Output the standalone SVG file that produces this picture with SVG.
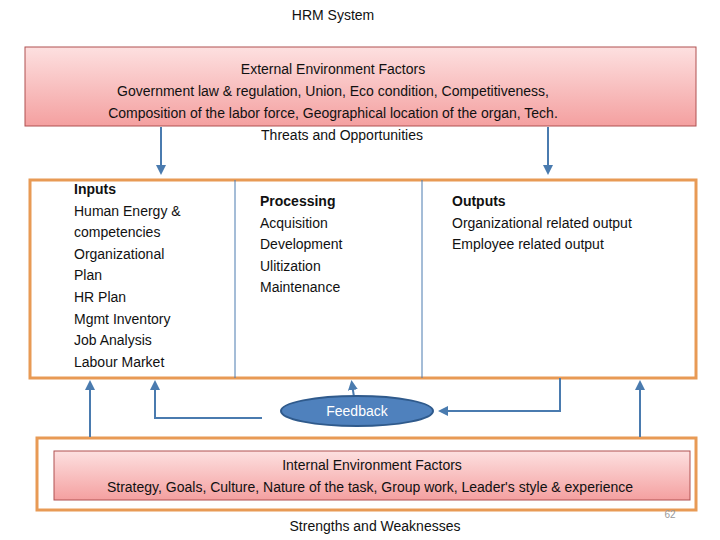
<svg xmlns="http://www.w3.org/2000/svg" width="720" height="540" viewBox="0 0 720 540">
<defs>
<linearGradient id="pk" x1="0" y1="0" x2="0" y2="1"><stop offset="0" stop-color="#FDE0E0"/><stop offset="1" stop-color="#F4A0A0"/></linearGradient>
<marker id="ah" markerWidth="6" markerHeight="6" refX="3" refY="3" orient="auto"><path d="M0,0.5 L5,3 L0,5.5 Z" fill="#4A7BAF"/></marker>
<style>
text{font-family:"Liberation Sans",Arial,sans-serif;font-size:14px;fill:#111}
.c{text-anchor:middle}
.b{font-weight:bold}
.ln{stroke:#4A7BAF;stroke-width:2;fill:none}
.ob{fill:#fff;stroke:#E89A55;stroke-width:3}
</style>
</defs>
<text x="333" y="20" class="c">HRM System</text>
<g id="external">
<rect x="25" y="47" width="671" height="79" fill="url(#pk)" stroke="#B05050" stroke-width="1"/>
<text x="333" y="74" class="c">External Environment Factors</text>
<text x="333" y="96" class="c">Government law &amp; regulation, Union, Eco condition, Competitiveness,</text>
<text x="333" y="118" class="c">Composition of the labor force, Geographical location of the organ, Tech.</text>
<text x="342" y="140" class="c">Threats and Opportunities</text>
</g>
<g id="system">
<rect x="30" y="180" width="666" height="198" class="ob"/>
<line x1="235" y1="180" x2="235" y2="378" stroke="#4A7BAF" stroke-width="1"/>
<line x1="422" y1="180" x2="422" y2="378" stroke="#4A7BAF" stroke-width="1"/>
<g id="inputs"><text x="74" y="194"><tspan class="b">Inputs</tspan><tspan x="74" dy="21.6">Human Energy &amp;</tspan><tspan x="74" dy="21.6">competencies</tspan><tspan x="74" dy="21.6">Organizational</tspan><tspan x="74" dy="21.6">Plan</tspan><tspan x="74" dy="21.6">HR Plan</tspan><tspan x="74" dy="21.6">Mgmt Inventory</tspan><tspan x="74" dy="21.6">Job Analysis</tspan><tspan x="74" dy="21.6">Labour Market</tspan></text></g>
<g id="processing"><text x="260" y="206"><tspan class="b">Processing</tspan><tspan x="260" dy="21.6">Acquisition</tspan><tspan x="260" dy="21.6">Development</tspan><tspan x="260" dy="21.6">Ulitization</tspan><tspan x="260" dy="21.6">Maintenance</tspan></text></g>
<g id="outputs"><text x="452" y="206"><tspan class="b">Outputs</tspan><tspan x="452" dy="21.6">Organizational related output</tspan><tspan x="452" dy="21.6">Employee related output</tspan></text></g>
</g>
<g id="internal">
<rect x="37" y="438" width="659" height="72" class="ob"/>
<rect x="54" y="451" width="636" height="49" fill="url(#pk)" stroke="#B05050" stroke-width="1"/>
<text x="372" y="470" class="c">Internal Environment Factors</text>
<text x="370" y="492" class="c">Strategy, Goals, Culture, Nature of the task, Group work, Leader's style &amp; experience</text>
<text x="375" y="531" class="c">Strengths and Weaknesses</text>
<text x="670" y="518" class="c" style="font-size:10px;fill:#999">62</text>
</g>
<g id="connectors">
<line x1="161" y1="127" x2="161" y2="171" class="ln" marker-end="url(#ah)"/>
<line x1="548" y1="127" x2="548" y2="171" class="ln" marker-end="url(#ah)"/>
<line x1="90" y1="437" x2="90" y2="384" class="ln" marker-end="url(#ah)"/>
<line x1="640" y1="437" x2="640" y2="384" class="ln" marker-end="url(#ah)"/>
<polyline points="262,418 155,418 155,384" class="ln" marker-end="url(#ah)"/>
<line x1="354" y1="397" x2="352" y2="384" class="ln" marker-end="url(#ah)"/>
<polyline points="560,378 560,411 442,411" class="ln" marker-end="url(#ah)"/>
</g>
<g id="feedback">
<ellipse cx="357" cy="411" rx="76" ry="15" fill="#4F81BD" stroke="#2F5A8C" stroke-width="2"/>
<text x="357" y="416" class="c" style="fill:#fff">Feedback</text>
</g>
</svg>
